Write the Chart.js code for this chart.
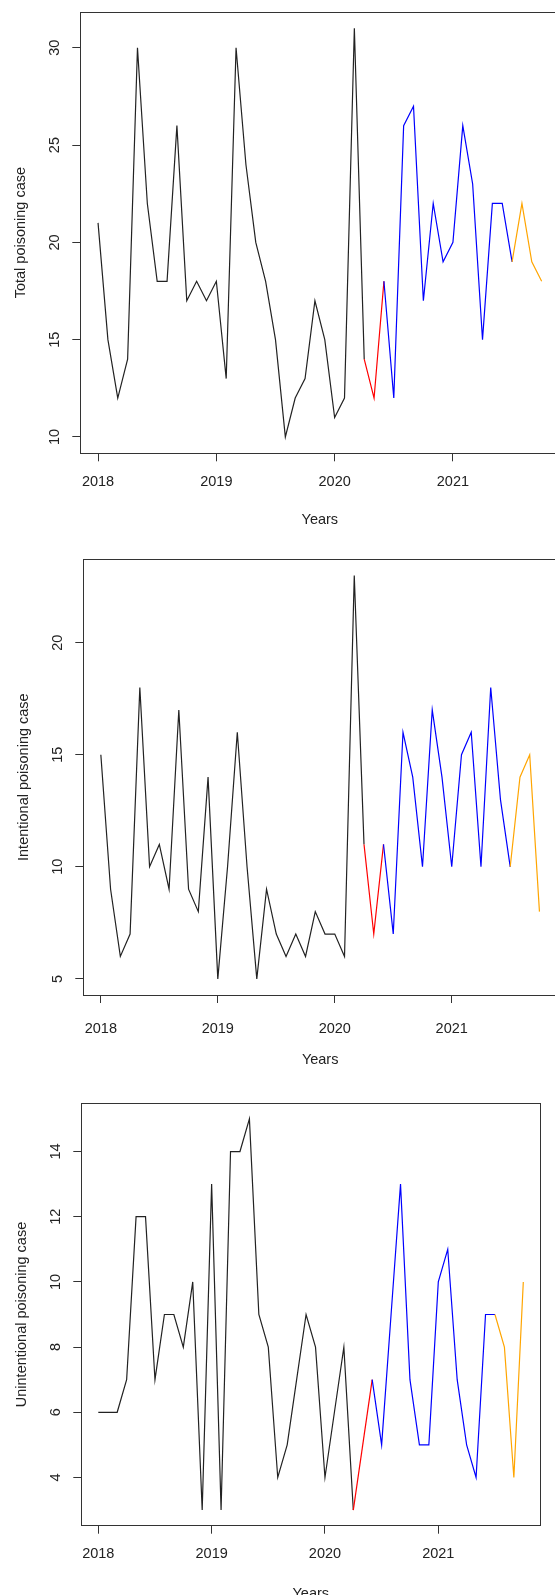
<!DOCTYPE html>
<html>
<head>
<meta charset="utf-8">
<script src="https://cdn.jsdelivr.net/npm/chart.js@4.4.1/dist/chart.umd.min.js"></script>
<style>
  html, body { margin: 0; padding: 0; background: #fff; overflow: hidden; }
  #page { width: 555px; height: 1595px; position: relative; overflow: hidden; }
  canvas { position: absolute; left: 0; }
</style>
</head>
<body>
<div id="page">
<canvas id="chart-total" width="565" height="535" style="top:0px"></canvas>
<canvas id="chart-intentional" width="565" height="540" style="top:540px"></canvas>
<canvas id="chart-unintentional" width="565" height="530" style="top:1080px"></canvas>
</div>
<script>
// monthly counts, Jan 2018 - Oct 2021
const totalCases = [21, 15, 12, 14, 30, 22, 18, 18, 26, 17, 18, 17,
                    18, 13, 30, 24, 20, 18, 15, 10, 12, 13, 17, 15,
                    11, 12, 31, 14, 12, 18, 12, 26, 27, 17, 22, 19,
                    20, 26, 23, 15, 22, 22, 19, 22, 19, 18];
const intentionalCases = [15, 9, 6, 7, 18, 10, 11, 9, 17, 9, 8, 14,
                          5, 10, 16, 10, 5, 9, 7, 6, 7, 6, 8, 7,
                          7, 6, 23, 11, 7, 11, 7, 16, 14, 10, 17, 14,
                          10, 15, 16, 10, 18, 13, 10, 14, 15, 8];
const unintentionalCases = [6, 6, 6, 7, 12, 12, 7, 9, 9, 8, 10, 3,
                            13, 3, 14, 14, 15, 9, 8, 4, 5, 7, 9, 8,
                            4, 6, 8, 3, 5, 7, 5, 9, 13, 7, 5, 5,
                            10, 11, 7, 5, 4, 9, 9, 8, 4, 10];

const yearTicks = [2018, 2019, 2020, 2021];
const totalTicks = [10, 15, 20, 25, 30];
const intentionalTicks = [5, 10, 15, 20];
const unintentionalTicks = [4, 6, 8, 10, 12, 14];

// index where each coloured part of the series starts
const redStart = 27;
const blueStart = 29;
const orangeStart = 42;

const startYear = 2018;
let monthX = [];
for (let i = 0; i < totalCases.length; i++) {
    monthX.push(startYear + i / 12);
}

const fontFamily = "'Liberation Sans', Arial, sans-serif";
const textColor = "#222";
const frameColor = "#333";

function segmentColor(ctx) {
    let i = ctx.p0DataIndex;
    if (i >= orangeStart) return "#FFA500";
    if (i >= blueStart) return "#0000FF";
    if (i >= redStart) return "#FF0000";
    return "#222";
}

// R style box round the plot region
const boxPlugin = {
    id: 'box',
    afterDraw: function (chart) {
        let a = chart.chartArea;
        let ctx = chart.ctx;
        ctx.save();
        ctx.strokeStyle = frameColor;
        ctx.lineWidth = 1;
        ctx.strokeRect(Math.round(a.left) + 0.5, Math.round(a.top) + 0.5,
            Math.round(a.right - a.left), Math.round(a.bottom - a.top));
        ctx.restore();
    }
};

function makePanel(id, values, yTicks, yLabel, box) {
    let xMin = monthX[0];
    let xMax = monthX[monthX.length - 1];
    let xPad = (xMax - xMin) * 0.04;
    let yMin = Math.min.apply(null, values);
    let yMax = Math.max.apply(null, values);
    let yPad = (yMax - yMin) * 0.04;

    let points = [];
    for (let i = 0; i < values.length; i++) {
        points.push({ x: monthX[i], y: values[i] });
    }

    let canvas = document.getElementById(id);
    let W = canvas.width;
    let H = canvas.height;

    new Chart(canvas, {
        type: 'line',
        data: {
            datasets: [{
                data: points,
                borderColor: "#222",
                borderWidth: 1.2,
                pointRadius: 0,
                tension: 0,
                fill: false,
                segment: { borderColor: segmentColor }
            }]
        },
        options: {
            responsive: false,
            animation: false,
            layout: {
                padding: { left: 0, top: box.top, right: W - box.right, bottom: 0 }
            },
            plugins: {
                legend: { display: false },
                tooltip: { enabled: false }
            },
            scales: {
                x: {
                    type: 'linear',
                    min: xMin - xPad,
                    max: xMax + xPad,
                    afterBuildTicks: function (scale) {
                        scale.ticks = yearTicks.map(v => ({ value: v }));
                    },
                    afterFit: function (scale) {
                        scale.height = H - box.bottom;
                        scale.paddingLeft = 0;
                        scale.paddingRight = 0;
                    },
                    border: { display: false },
                    grid: {
                        drawOnChartArea: false,
                        drawTicks: true,
                        tickLength: 8,
                        color: frameColor,
                        lineWidth: 1
                    },
                    ticks: {
                        padding: box.xTickPad,
                        maxRotation: 0,
                        color: textColor,
                        font: { family: fontFamily, size: 14.5 },
                        callback: v => String(v)
                    },
                    title: {
                        display: true,
                        text: 'Years',
                        color: textColor,
                        font: { family: fontFamily, size: 14.5 },
                        padding: { top: 0, bottom: H - 9 - box.titleY }
                    }
                },
                y: {
                    min: yMin - yPad,
                    max: yMax + yPad,
                    afterBuildTicks: function (scale) {
                        scale.ticks = yTicks.map(v => ({ value: v }));
                    },
                    afterFit: function (scale) {
                        scale.width = box.left;
                        scale.paddingTop = 0;
                        scale.paddingBottom = 0;
                    },
                    border: { display: false },
                    grid: {
                        drawOnChartArea: false,
                        drawTicks: true,
                        tickLength: 8,
                        color: frameColor,
                        lineWidth: 1
                    },
                    ticks: {
                        padding: 9,
                        minRotation: 90,
                        maxRotation: 90,
                        crossAlign: 'center',
                        color: textColor,
                        font: { family: fontFamily, size: 14.5 }
                    },
                    title: {
                        display: true,
                        text: yLabel,
                        color: textColor,
                        font: { family: fontFamily, size: 14.5 },
                        padding: { top: box.left - 59.5 - 9, bottom: 0 }
                    }
                }
            }
        },
        plugins: [boxPlugin]
    });
}

makePanel("chart-total", totalCases, totalTicks, "Total poisoning case",
    { left: 80.3, top: 12, right: 559.4, bottom: 453.3, titleY: 520, xTickPad: 12 });
makePanel("chart-intentional", intentionalCases, intentionalTicks, "Intentional poisoning case",
    { left: 83.3, top: 19.3, right: 557, bottom: 455, titleY: 520, xTickPad: 17 });
makePanel("chart-unintentional", unintentionalCases, unintentionalTicks, "Unintentional poisoning case",
    { left: 81.3, top: 23.3, right: 540.3, bottom: 445.7, titleY: 513.8, xTickPad: 12 });
</script>
</body>
</html>
